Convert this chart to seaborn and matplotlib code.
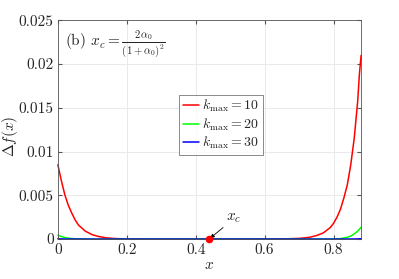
import numpy as np
import pandas as pd
import matplotlib
matplotlib.use('Agg')
import matplotlib.pyplot as plt
import seaborn as sns

# values
x_k10 = [0, 0.01, 0.02, 0.03, 0.04, 0.05, 0.06, 0.08, 0.10, 0.12, 0.14, 0.16, 0.18, 0.20,
         0.3, 0.4, 0.5, 0.6, 0.66, 0.70, 0.73, 0.75, 0.77, 0.79, 0.80, 0.81, 0.82, 0.83,
         0.84, 0.85, 0.86, 0.87, 0.875, 0.88]
y_k10 = [0.0085, 0.0067, 0.0051, 0.0039, 0.0030, 0.0022, 0.0016, 0.0009, 0.0005, 0.00028,
         0.00015, 0.00008, 0.00004, 0.00002, 0, 0, 0, 0.00001, 0.00003, 0.00008, 0.0002,
         0.0004, 0.0007, 0.0013, 0.0018, 0.0025, 0.0034, 0.0047, 0.0062, 0.0085, 0.0115,
         0.0157, 0.0188, 0.021]
x_k20 = [0, 0.01, 0.02, 0.03, 0.04, 0.06, 0.1, 0.4, 0.7, 0.80, 0.82, 0.84, 0.85, 0.86, 0.87, 0.88]
y_k20 = [0.00046, 0.0003, 0.00018, 0.0001, 0.00006, 0.00002, 0, 0, 0, 0.00001, 0.00005,
         0.0002, 0.00035, 0.0006, 0.0009, 0.00135]
x_k30 = [0, 0.02, 0.1, 0.4, 0.8, 0.86, 0.88]
y_k30 = [0.00003, 0.00001, 0, 0, 0, 0.00001, 0.00004]

x_c = 0.439
xticks = [0, 0.2, 0.4, 0.6, 0.8]
xtick_labels = ['0', '0.2', '0.4', '0.6', '0.8']
yticks = [0, 0.005, 0.01, 0.015, 0.02, 0.025]
ytick_labels = ['0', '0.005', '0.01', '0.015', '0.02', '0.025']

labels = [r'$k_{\max} = 10$', r'$k_{\max} = 20$', r'$k_{\max} = 30$']
df = pd.concat([
    pd.DataFrame({'x': x_k10, 'df': y_k10, 'k': labels[0]}),
    pd.DataFrame({'x': x_k20, 'df': y_k20, 'k': labels[1]}),
    pd.DataFrame({'x': x_k30, 'df': y_k30, 'k': labels[2]}),
], ignore_index=True)

sns.set_style('ticks')
plt.rcParams['font.family'] = 'serif'
plt.rcParams['font.serif'] = ['cmr10', 'DejaVu Serif']
plt.rcParams['mathtext.fontset'] = 'cm'
plt.rcParams['axes.unicode_minus'] = False

fig = plt.figure(figsize=(3.99, 2.79), dpi=100)
ax = fig.add_axes([0.145, 0.143, 0.76, 0.784])

sns.lineplot(data=df, x='x', y='df', hue='k', palette=['#ff0000', '#00ff00', '#0000ff'],
             linewidth=1.1, ax=ax, sort=False)
for ln in ax.get_lines():
    ln.set_clip_on(False)

ax.plot([x_c], [0], 'o', color='#ff0000', markersize=4.5, zorder=5, clip_on=False)
ax.annotate(r'$x_c$', xy=(x_c, 0), xytext=(x_c + 0.05, 0.0021), fontsize=11,
            arrowprops=dict(arrowstyle='-|>', color='black', lw=0.6, mutation_scale=6,
                            shrinkA=0, shrinkB=1))

ax.text(0.025, 0.965, r'(b) $x_c = \frac{2\alpha_0}{(1+\alpha_0)^2}$', transform=ax.transAxes,
        ha='left', va='top', fontsize=11)

ax.set_xlim(0, 0.88)
ax.set_ylim(0, 0.025)
ax.set_xticks(xticks)
ax.set_xticklabels(xtick_labels)
ax.set_yticks(yticks)
ax.set_yticklabels(ytick_labels)
ax.tick_params(direction='in', length=3, labelsize=11, color='#555555', top=True, right=True, pad=3)
ax.grid(True, color='#e6e6e6', linewidth=0.6)
for s in ax.spines.values():
    s.set_color('#555555')
    s.set_linewidth(0.6)
ax.set_xlabel(r'$x$', fontsize=11, labelpad=1)
ax.set_ylabel(r'$\Delta f(x)$', fontsize=11)
ax.yaxis.set_label_coords(-0.125, 0.47)

leg = ax.legend(loc='center', bbox_to_anchor=(0.538, 0.523), fontsize=10, frameon=True,
                fancybox=False, edgecolor='#555555', handlelength=1.2, handletextpad=0.2,
                borderpad=0.25, labelspacing=0.15, borderaxespad=0)
leg.get_frame().set_linewidth(0.6)

fig.savefig('out.png', dpi=100)
